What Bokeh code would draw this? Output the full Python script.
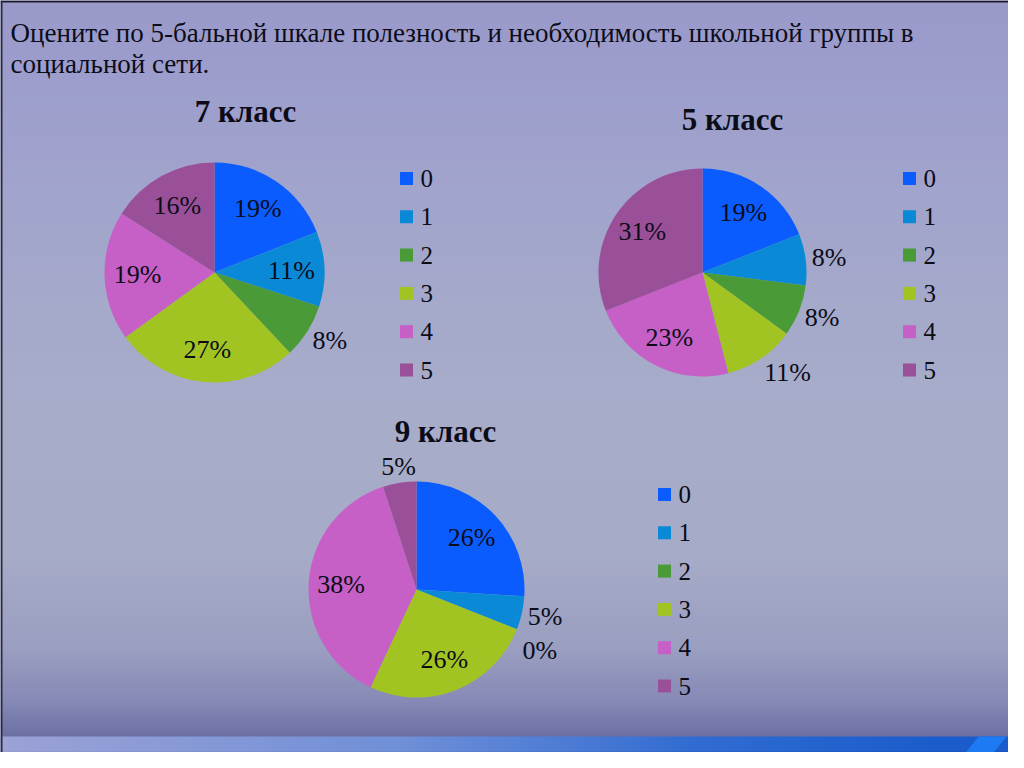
import numpy as np
from bokeh.plotting import figure
from bokeh.models import Range1d, ColumnDataSource
from bokeh.embed import file_html
from bokeh.resources import INLINE
from bokeh.core.properties import value

# ---------------- data ----------------
title_line1 = "Оцените по 5-бальной шкале полезность и необходимость школьной группы в"
title_line2 = "социальной сети."
categories = ["0", "1", "2", "3", "4", "5"]
colors = ["#0A5CFF", "#0A8AD6", "#4A9A38", "#A2C422", "#C660C6", "#9A5098"]
grade_titles = ["7 класс", "5 класс", "9 класс"]
share_7 = [19, 11, 8, 27, 19, 16]
share_5 = [19, 8, 8, 11, 23, 31]
share_9 = [26, 5, 0, 26, 38, 5]

# ---------------- layout (reference pixel coordinates) ----------------
W, H = 1024, 768
FW, FH = 1008, 752
def Y(py):
    return H - py

pies = [
    dict(vals=share_7, title=grade_titles[0], cx=214, cy=272, r=110, tx=245, ty=111, lx=406, ly=178),
    dict(vals=share_5, title=grade_titles[1], cx=702, cy=272, r=104, tx=732, ty=119, lx=909, ly=178),
    dict(vals=share_9, title=grade_titles[2], cx=416, cy=589, r=108, tx=445, ty=431, lx=664, ly=494),
]
LEG_STEP = 38.3
SERIF = value("Liberation Serif")

p = figure(width=FW, height=FH, x_range=Range1d(0, FW), y_range=Range1d(H - FH, H),
           output_backend="svg", toolbar_location=None, min_border=0,
           x_axis_location=None, y_axis_location=None)
p.xgrid.visible = False
p.ygrid.visible = False
p.outline_line_color = None
p.background_fill_color = "#A4A8CA"
p.border_fill_color = "#A4A8CA"

# ---------------- background gradient ----------------
stops_y = [0, 60, 200, 400, 560, 650, 700, 736]
stops_c = [(0x9A, 0x9A, 0xCA), (0x9C, 0x9D, 0xCC), (0xA2, 0xA5, 0xCC), (0xA8, 0xAD, 0xCA),
           (0xA6, 0xAB, 0xC8), (0x9A, 0x9E, 0xC0), (0x86, 0x8A, 0xB6), (0x6C, 0x70, 0xA4)]
rows = np.arange(H)
bg = np.empty((H, 1), dtype=np.uint32)
v = bg.view(dtype=np.uint8).reshape((H, 1, 4))
for k in range(3):
    ch = np.interp(rows, stops_y, [c[k] for c in stops_c])
    v[:, 0, k] = ch[::-1].astype(np.uint8)
v[:, 0, 3] = 255
p.image_rgba(image=[bg], x=0, y=0, dw=W, dh=H)

# bottom band (horizontal gradient)
BW = 128
band = np.empty((2, BW), dtype=np.uint32)
bv = band.view(dtype=np.uint8).reshape((2, BW, 4))
xs = np.linspace(0, W, BW)
bx = [0, 400, 700, 950, 1024]
top_c = [(0x9C, 0xA2, 0xD6), (0x70, 0x90, 0xD8), (0x30, 0x6C, 0xD2), (0x1A, 0x5C, 0xCC), (0x1A, 0x5C, 0xCC)]
bot_c = [(0x90, 0x98, 0xCC), (0x62, 0x80, 0xC8), (0x28, 0x5C, 0xBC), (0x18, 0x4C, 0xB0), (0x18, 0x4C, 0xB0)]
for k in range(3):
    bv[1, :, k] = np.interp(xs, bx, [c[k] for c in top_c]).astype(np.uint8)
    bv[0, :, k] = np.interp(xs, bx, [c[k] for c in bot_c]).astype(np.uint8)
bv[:, :, 3] = 255
p.image_rgba(image=[band], x=0, y=Y(766), dw=W, dh=30)
p.patch(x=[966, 978, 1006, 994, 1006, 978], y=[Y(751), Y(736), Y(736), Y(751), Y(766), Y(766)],
        fill_color="#1E7AF2", line_color=None)

# slide frame lines
p.quad(left=0, right=W, bottom=Y(2), top=Y(0), fill_color="#1A1A2C", line_color=None)
p.quad(left=0, right=2, bottom=Y(H), top=Y(0), fill_color="#2A2A40", line_color=None)

# ---------------- slide title ----------------
p.text(x=[10], y=[Y(32)], text=[title_line1], text_font=SERIF, text_font_size="27px",
       text_color="#0C0C18", text_baseline="alphabetic", text_align="left")
p.text(x=[10], y=[Y(63)], text=[title_line2], text_font=SERIF, text_font_size="27px",
       text_color="#0C0C18", text_baseline="alphabetic", text_align="left")

# ---------------- pies ----------------
for pie in pies:
    vals = np.array(pie["vals"], dtype=float)
    total = vals.sum()
    cum = np.cumsum(vals)
    prev = cum - vals
    start = np.pi / 2 - 2 * np.pi * prev / total
    end = np.pi / 2 - 2 * np.pi * cum / total
    cx, cy, r = pie["cx"], pie["cy"], pie["r"]
    nz = vals > 0
    src = ColumnDataSource(dict(start=start[nz], end=end[nz], color=np.array(colors)[nz].tolist()))
    p.wedge(x=cx, y=Y(cy), radius=r, start_angle="start", end_angle="end", direction="clock",
            fill_color="color", line_color=None, source=src)

    # data labels
    groups = {"left": ([], [], []), "right": ([], [], []), "center": ([], [], [])}
    last_out_py = None
    for i, val in enumerate(vals):
        theta = 2 * np.pi * (prev[i] + val / 2) / total  # clockwise from 12 o'clock
        s, c = np.sin(theta), np.cos(theta)
        txt = f"{int(val)}%"
        arc = val / total * 2 * np.pi * 0.7 * r
        if arc >= 52:
            px, py = cx + 0.7 * r * s, cy - 0.7 * r * c
            align = "center"
        else:
            d = r + 6
            px, py = cx + d * s, cy - d * c + 11 * (-c)
            align = "center" if abs(s) < 0.3 else ("left" if s > 0 else "right")
            if last_out_py is not None and align == "left" and py - last_out_py < 34 and py >= last_out_py - 5:
                py = last_out_py + 34
            if align == "left":
                last_out_py = py
        gx, gy, gt = groups[align]
        gx.append(px); gy.append(Y(py)); gt.append(txt)
    for align, (gx, gy, gt) in groups.items():
        if gx:
            p.text(x=gx, y=gy, text=gt, text_font=SERIF, text_font_size="26px",
                   text_color="#0C0C18", text_align=align, text_baseline="middle")

    # chart title
    p.text(x=[pie["tx"]], y=[Y(pie["ty"])], text=[pie["title"]], text_font=SERIF,
           text_font_size="31px", text_font_style="bold", text_color="#0C0C18",
           text_align="center", text_baseline="middle")

    # legend
    ly = [Y(pie["ly"] + k * LEG_STEP) for k in range(len(categories))]
    p.scatter(x=[pie["lx"]] * len(categories), y=ly, marker="square", size=13,
              fill_color=colors, line_color=None)
    p.text(x=[pie["lx"] + 14] * len(categories), y=ly, text=categories, text_font=SERIF,
           text_font_size="25px", text_color="#0C0C18", text_align="left", text_baseline="middle")

open("out.html", "w").write(file_html(p, INLINE))
